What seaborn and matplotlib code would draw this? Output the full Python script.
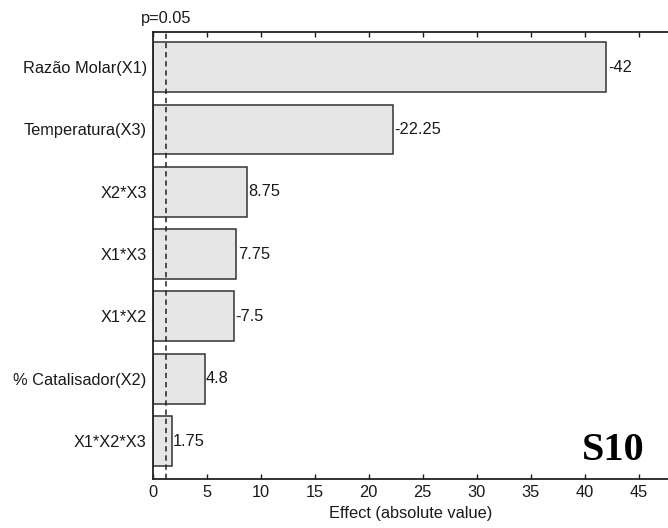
import matplotlib
matplotlib.use("Agg")
import matplotlib.pyplot as plt
import seaborn as sns
import pandas as pd
import numpy as np

# Data
factors = ["Razão Molar(X1)", "Temperatura(X3)", "X2*X3", "X1*X3", "X1*X2",
           "% Catalisador(X2)", "X1*X2*X3"]
effects = [-42, -22.25, 8.75, 7.75, -7.5, 4.8, 1.75]
p_limit = 1.23
x_ticks = [0, 5, 10, 15, 20, 25, 30, 35, 40, 45]

sns.set_style("white")
plt.rcParams["font.family"] = ["Liberation Sans", "DejaVu Sans"]

FS = 11.8

df = pd.DataFrame({"factor": factors,
                   "effect": effects,
                   "abs_effect": np.abs(effects)})

fig = plt.figure(figsize=(6.68, 5.28), dpi=100)
ax = fig.add_axes([0.2286, 0.0922, 0.7714, 0.8478])

sns.barplot(data=df, x="abs_effect", y="factor", orient="h", order=factors,
            color="#e6e6e6", saturation=1, edgecolor="#333333", linewidth=1.1,
            width=0.8, ax=ax)

labels = [f"{e:g}" for e in df["effect"]]
ax.bar_label(ax.containers[0], labels=labels, padding=1, fontsize=FS,
             color="#1a1a1a")

ax.axvline(p_limit, color="#222222", linewidth=1.1, linestyle=(0, (3.5, 2.5)))
ax.annotate("p=0.05", xy=(p_limit, 1), xycoords=("data", "axes fraction"),
            xytext=(0, 6), textcoords="offset points", ha="center",
            va="baseline", fontsize=FS, color="#1a1a1a")

ax.set_xlim(0, 47.7)
ax.set_ylim(6.615, -0.57)
ax.set_xticks(x_ticks)
ax.set_xticklabels([str(t) for t in x_ticks])
ax.tick_params(axis="x", which="both", direction="in", length=3.6, width=1.0,
               top=True, bottom=True, labeltop=False, labelsize=FS, pad=4.2,
               colors="#1a1a1a")
ax.tick_params(axis="y", length=0, labelsize=FS, pad=4.3, colors="#1a1a1a")

ax.set_xlabel("Effect (absolute value)", fontsize=FS, labelpad=4,
              color="#1a1a1a")
ax.set_ylabel("")

for side in ["left", "top", "bottom"]:
    ax.spines[side].set_visible(True)
    ax.spines[side].set_color("#222222")
    ax.spines[side].set_linewidth(1.3)
ax.spines["right"].set_visible(False)

ax.text(644, 68, "S10", transform=None, ha="right", va="baseline",
        fontsize=29, fontweight="bold", family="Liberation Serif", color="black")

fig.savefig("out.png", dpi=100)
